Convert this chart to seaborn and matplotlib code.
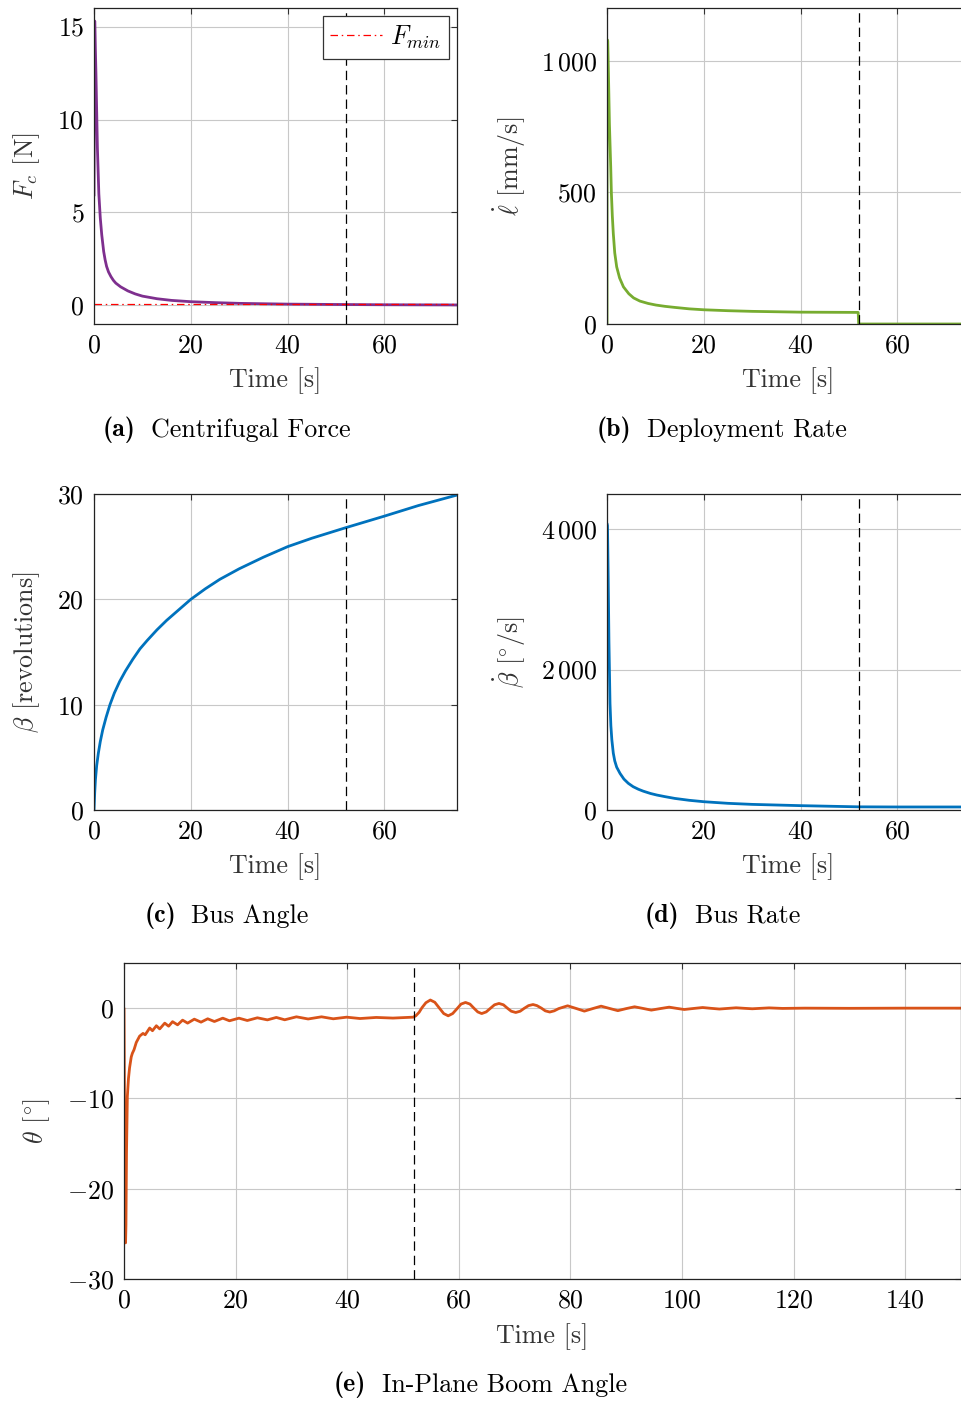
import matplotlib
matplotlib.use("Agg")
import matplotlib.pyplot as plt
import seaborn as sns
from matplotlib.ticker import FuncFormatter, FixedLocator

# ────────────────────────────────────────────────────────────────
# Data
# ────────────────────────────────────────────────────────────────
T_SWITCH = 52.0          # vertical dashed marker [s]
F_MIN = 0.05             # minimum centrifugal force [N]

# (a) centrifugal force [N]
fc_t = [0.0, 0.15, 0.4, 0.7, 1.0, 1.3, 1.6, 2.0, 2.3, 2.6, 3.0, 3.5, 4.0, 4.5,
        5.5, 7.0, 8.5, 10.0, 13.0, 16.0, 20.0, 25.0, 30.0, 35.0, 40.0, 50.0,
        60.0, 75.0]
fc_v = [5.9, 15.3, 12.5, 8.5, 6.0, 4.7, 3.8, 2.9, 2.45, 2.1, 1.8, 1.55, 1.35,
        1.2, 1.0, 0.78, 0.62, 0.5, 0.36, 0.27, 0.2, 0.15, 0.11, 0.09, 0.07,
        0.05, 0.035, 0.025]

# (b) deployment rate [mm/s]
ld_t = [0.0, 0.02, 0.15, 0.3, 0.5, 0.77, 0.9, 1.1, 1.3, 1.6, 2.0, 2.6, 3.4,
        4.5, 5.5, 6.8, 8.5, 10.1, 12.0, 14.0, 17.0, 20.0, 25.0, 30.0, 40.0,
        51.9, 52.0, 75.0]
ld_v = [0.0, 1080, 1075, 950, 760, 596, 500, 410, 344, 270, 217, 175, 141,
        115, 99, 87, 78, 72, 67, 63, 57.5, 54, 50.5, 48, 45, 44, 0.0, 0.0]

# (c) bus angle [rev]
ba_t = [0.0, 0.15, 0.3, 0.55, 0.9, 1.3, 1.8, 2.5, 3.3, 4.2, 5.3, 6.5, 8.0, 9.5,
        11.0, 13.0, 15.0, 17.5, 20.0, 23.0, 26.0, 30.0, 35.0, 40.0, 45.0,
        52.0, 60.0, 67.0, 75.0]
ba_v = [0.0, 1.7, 2.9, 4.2, 5.4, 6.5, 7.6, 8.8, 10.0, 11.1, 12.2, 13.2, 14.3,
        15.3, 16.1, 17.1, 18.0, 19.0, 20.0, 21.0, 21.9, 22.9, 24.0, 25.0, 25.8,
        26.8, 27.9, 28.9, 29.9]

# (d) bus rate [deg/s]
br_t = [0.0, 0.1, 0.25, 0.4, 0.62, 0.8, 1.0, 1.3, 1.6, 2.0, 2.7, 3.5, 4.4,
        5.4, 6.5, 7.5, 9.0, 10.3, 12.0, 14.0, 17.0, 20.0, 25.0, 30.0, 40.0,
        52.0, 60.0, 75.0]
br_v = [4080, 4050, 3300, 2400, 1520, 1200, 1000, 810, 700, 610, 520, 440,
        380, 332, 295, 268, 235, 213, 190, 165, 138, 118, 95, 80, 62, 45, 43,
        43]

# (e) in-plane boom angle [deg]
th_t = [0.0, 0.1, 0.2, 0.28, 0.35, 0.45, 0.6, 0.8, 1.0, 1.3, 1.5, 1.8, 2.2, 2.8,
        3.4, 3.8, 4.6, 5.1, 5.8, 6.4, 7.3, 8.0, 8.7, 9.6, 10.5, 11.4, 12.6, 13.8,
        15.0, 16.2, 17.7, 18.9, 20.6, 22.1, 23.9, 25.7, 27.3, 28.8, 30.9, 33.0,
        35.4, 37.5, 39.9, 42.3, 45.2, 48.2, 51.8,
        52.3, 52.9, 53.4, 54.1, 54.9, 55.7, 56.4, 57.3, 58.1, 58.9, 59.7, 60.4,
        61.2, 62.0, 62.7, 63.4, 64.1, 64.9, 65.7, 66.4, 67.2, 68.0, 68.7, 69.4,
        70.2, 71.0, 71.7, 72.5, 73.3, 74.0, 74.8, 75.5, 76.3, 77.1, 77.9,
        79.5, 81.0, 82.5, 84.0, 85.5, 87.0, 88.5, 90.0, 91.5, 93.0, 94.5, 96.1,
        97.7, 99.0, 100.4, 102.0, 103.7, 105.2, 106.7, 108.2, 109.7, 111.2,
        112.6, 114.1, 115.6, 118.0, 122.0, 130.0, 140.0, 150.0]
th_v = [0.0, -12.0, -24.0, -26.0, -24.0, -16.0, -9.8, -7.8, -6.6, -5.4, -5.0,
        -4.6, -3.8, -3.1, -2.8, -2.95, -2.2, -2.5, -1.95, -2.3, -1.66, -2.0,
        -1.5, -1.85, -1.33, -1.66, -1.22, -1.55, -1.18, -1.48, -1.11, -1.4,
        -1.11, -1.37, -1.07, -1.3, -1.03, -1.29, -0.96, -1.2, -0.96, -1.18,
        -1.0, -1.15, -1.03, -1.1, -1.0,
        -0.85, -0.45, 0.05, 0.6, 0.9, 0.65, 0.1, -0.6, -0.85, -0.6, -0.05, 0.45,
        0.63, 0.45, 0.0, -0.42, -0.6, -0.42, 0.0, 0.37, 0.52, 0.37, 0.0, -0.34,
        -0.48, -0.34, -0.03, 0.28, 0.4, 0.28, 0.0, -0.3, -0.43, -0.3, -0.05,
        0.26, -0.03, -0.33, -0.05, 0.22, -0.03, -0.28, -0.05, 0.15, -0.03,
        -0.22, -0.05, 0.11, -0.02, -0.15, -0.04, 0.07, -0.02, -0.1, -0.03,
        0.04, -0.02, -0.07, -0.02, 0.03, -0.03, 0.0, -0.02, 0.0, 0.0]

PURPLE = "#7E2F8E"
GREEN = "#77AC30"
BLUE = "#0072BD"
ORANGE = "#D95319"

# ────────────────────────────────────────────────────────────────
# Style
# ────────────────────────────────────────────────────────────────
sns.set_theme(style="whitegrid")
FS = 18.7
plt.rcParams.update({
    "font.family": "serif",
    "font.serif": ["cmr10", "DejaVu Serif"],
    "mathtext.fontset": "cm",
    "axes.formatter.use_mathtext": True,
    "font.size": FS,
    "text.color": "black",
    "axes.edgecolor": "#222222",
    "axes.linewidth": 0.9,
    "xtick.direction": "in",
    "ytick.direction": "in",
    "xtick.top": True,
    "ytick.right": True,
    "xtick.major.size": 4,
    "ytick.major.size": 4,
    "xtick.major.width": 0.8,
    "ytick.major.width": 0.8,
    "xtick.color": "#333333",
    "ytick.color": "#333333",
    "xtick.labelcolor": "black",
    "ytick.labelcolor": "black",
    "xtick.labelsize": FS,
    "ytick.labelsize": FS,
    "xtick.major.pad": 7,
    "ytick.major.pad": 7,
})

W, H = 962, 1401


def rect(left, top, right, bottom):
    return [left / W, 1 - bottom / H, (right - left) / W, (bottom - top) / H]


def tex_num(v, pos):
    n = int(round(v))
    s = f"{abs(n):,}".replace(",", r"\,")
    return f"${'-' if n < 0 else ''}{s}$"


def style(ax, xlim, ylim, xticks, yticks, xlab, ylab, xlab_x, ylab_x):
    ax.set_xlim(*xlim)
    ax.set_ylim(*ylim)
    ax.xaxis.set_major_locator(FixedLocator(xticks))
    ax.yaxis.set_major_locator(FixedLocator(yticks))
    ax.xaxis.set_major_formatter(FuncFormatter(tex_num))
    ax.yaxis.set_major_formatter(FuncFormatter(tex_num))
    ax.grid(True, color="#c8c8c8", lw=0.8)
    ax.set_axisbelow(True)
    ax.set_xlabel(xlab, fontsize=FS, color="#333333", va="center")
    ax.set_ylabel(ylab, fontsize=FS, color="#333333", va="center")
    ax.xaxis.set_label_coords(0.5, xlab_x)
    ax.yaxis.set_label_coords(ylab_x, 0.5)
    ax.axvline(T_SWITCH, color="black", lw=0.9, ls=(0, (7.5, 4)), zorder=3)
    for s in ax.spines.values():
        s.set_visible(True)


def curve(ax, t, v, color):
    sns.lineplot(x=t, y=v, ax=ax, color=color, lw=2.0, estimator=None,
                 sort=False, legend=False, zorder=2)


fig = plt.figure(figsize=(W / 100, H / 100), dpi=100)

ax_a = fig.add_axes(rect(94, 8, 457, 324))
ax_b = fig.add_axes(rect(607, 8, 970, 324))
ax_c = fig.add_axes(rect(94, 494, 457, 810))
ax_d = fig.add_axes(rect(607, 494, 970, 810))
ax_e = fig.add_axes(rect(124, 963, 961, 1279))

# (a)
curve(ax_a, fc_t, fc_v, PURPLE)
fmin = ax_a.axhline(F_MIN, color="red", lw=0.9, ls=(0, (6, 3, 1.2, 3)),
                    label=r"$F_{min}$", zorder=2.5)
style(ax_a, (0, 75), (-1, 16), [0, 20, 40, 60], [0, 5, 10, 15],
      "Time [s]", r"$F_c$ [N]", -0.180, -0.185)
leg = ax_a.legend(handles=[fmin], loc="upper right", fontsize=FS,
                  fancybox=False, framealpha=1, edgecolor="#333333",
                  handlelength=2.0, borderaxespad=0.3, borderpad=0.3,
                  handletextpad=0.3)
leg.get_frame().set_linewidth(0.9)

# (b)
curve(ax_b, ld_t, ld_v, GREEN)
style(ax_b, (0, 75), (0, 1200), [0, 20, 40, 60], [0, 500, 1000],
      "Time [s]", r"$\dot{\ell}$ [mm/s]", -0.180, -0.267)

# (c)
curve(ax_c, ba_t, ba_v, BLUE)
style(ax_c, (0, 75), (0, 30), [0, 20, 40, 60], [0, 10, 20, 30],
      "Time [s]", r"$\beta$ [revolutions]", -0.180, -0.185)

# (d)
curve(ax_d, br_t, br_v, BLUE)
style(ax_d, (0, 75), (0, 4500), [0, 20, 40, 60], [0, 2000, 4000],
      "Time [s]", r"$\dot{\beta}$ [$^{\circ}$/s]", -0.180, -0.267)

# (e)
curve(ax_e, th_t, th_v, ORANGE)
style(ax_e, (0, 150), (-30, 5), list(range(0, 141, 20)), [-30, -20, -10, 0],
      "Time [s]", r"$\theta$ [$^{\circ}$]", -0.183, -0.104)

# sub-captions: bold tag + regular title
captions = [
    (103, 151, 430, "(a)", "Centrifugal Force"),
    (597, 647, 430, "(b)", "Deployment Rate"),
    (145, 191, 916, "(c)", "Bus Angle"),
    (645, 695, 916, "(d)", "Bus Rate"),
    (334, 382, 1385, "(e)", "In-Plane Boom Angle"),
]
for tx, cx, cy, tag, title in captions:
    fig.text(tx / W, 1 - cy / H, tag, ha="left", va="center", fontsize=FS,
             family="cmb10")
    fig.text(cx / W, 1 - cy / H, title, ha="left", va="center", fontsize=FS)

fig.savefig("out.png", dpi=100)
plt.close(fig)
